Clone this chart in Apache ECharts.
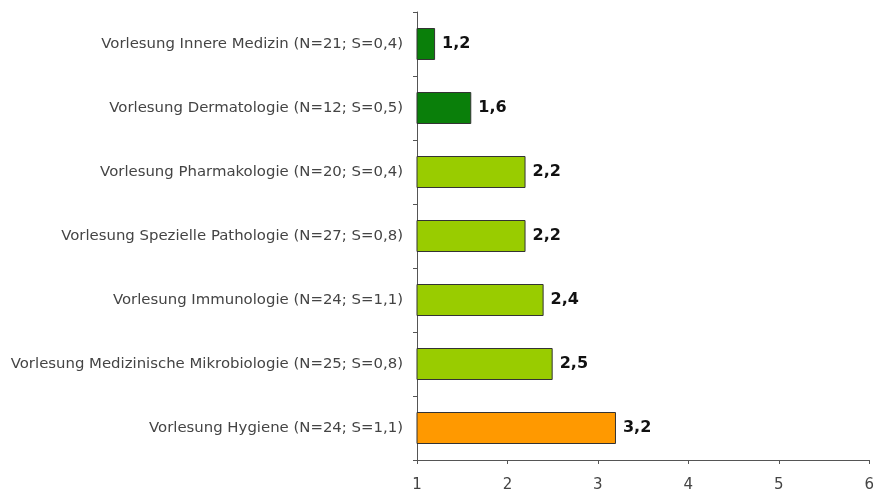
<!DOCTYPE html>
<html><head><meta charset="utf-8">
<script src="https://cdn.jsdelivr.net/npm/echarts@6/dist/echarts.min.js"></script>
<style>html,body{margin:0;padding:0;background:#fff}#c{width:877px;height:495px}</style>
</head><body><div id="c"></div>
<script>
const categories = [
  "Vorlesung Innere Medizin (N=21; S=0,4)",
  "Vorlesung Dermatologie (N=12; S=0,5)",
  "Vorlesung Pharmakologie (N=20; S=0,4)",
  "Vorlesung Spezielle Pathologie (N=27; S=0,8)",
  "Vorlesung Immunologie (N=24; S=1,1)",
  "Vorlesung Medizinische Mikrobiologie (N=25; S=0,8)",
  "Vorlesung Hygiene (N=24; S=1,1)"
];
const values = [1.2, 1.6, 2.2, 2.2, 2.4, 2.5, 3.2];
const barColors = ["#0a7f0a", "#0a7f0a", "#99cc00", "#99cc00", "#99cc00", "#99cc00", "#ff9900"];
const xTicks = [1, 2, 3, 4, 5, 6];

const chart = echarts.init(document.getElementById('c'), null, {renderer: 'canvas'});
chart.setOption({
  animation: false,
  grid: {left: 417, right: 5, top: 12, bottom: 35, containLabel: false},
  xAxis: {
    type: 'value', min: xTicks[0], max: xTicks[xTicks.length - 1], interval: 1,
    splitLine: {show: false},
    axisLine: {show: true, lineStyle: {color: '#555', width: 1}},
    axisTick: {show: true, length: 4, lineStyle: {color: '#555'}},
    axisLabel: {color: '#444', fontSize: 15, fontFamily: 'DejaVu Sans', margin: 18,
      formatter: v => String(v)}
  },
  yAxis: {
    type: 'category', data: categories, inverse: true,
    axisLine: {show: true, lineStyle: {color: '#555', width: 1}},
    axisTick: {show: true, length: 4, lineStyle: {color: '#555'}},
    axisLabel: {color: '#444', fontSize: 14.9, fontFamily: 'DejaVu Sans', margin: 14}
  },
  series: [{
    type: 'bar',
    barWidth: 32,
    clip: true,
    data: values.map((v, i) => ({value: v, itemStyle: {color: barColors[i], borderColor: '#333', borderWidth: 1}})),
    label: {show: true, position: 'right', distance: 7, color: '#111', fontWeight: 'bold',
      fontSize: 16, fontFamily: 'DejaVu Sans', formatter: p => String(p.value).replace('.', ',')}
  }]
});
</script></body></html>
